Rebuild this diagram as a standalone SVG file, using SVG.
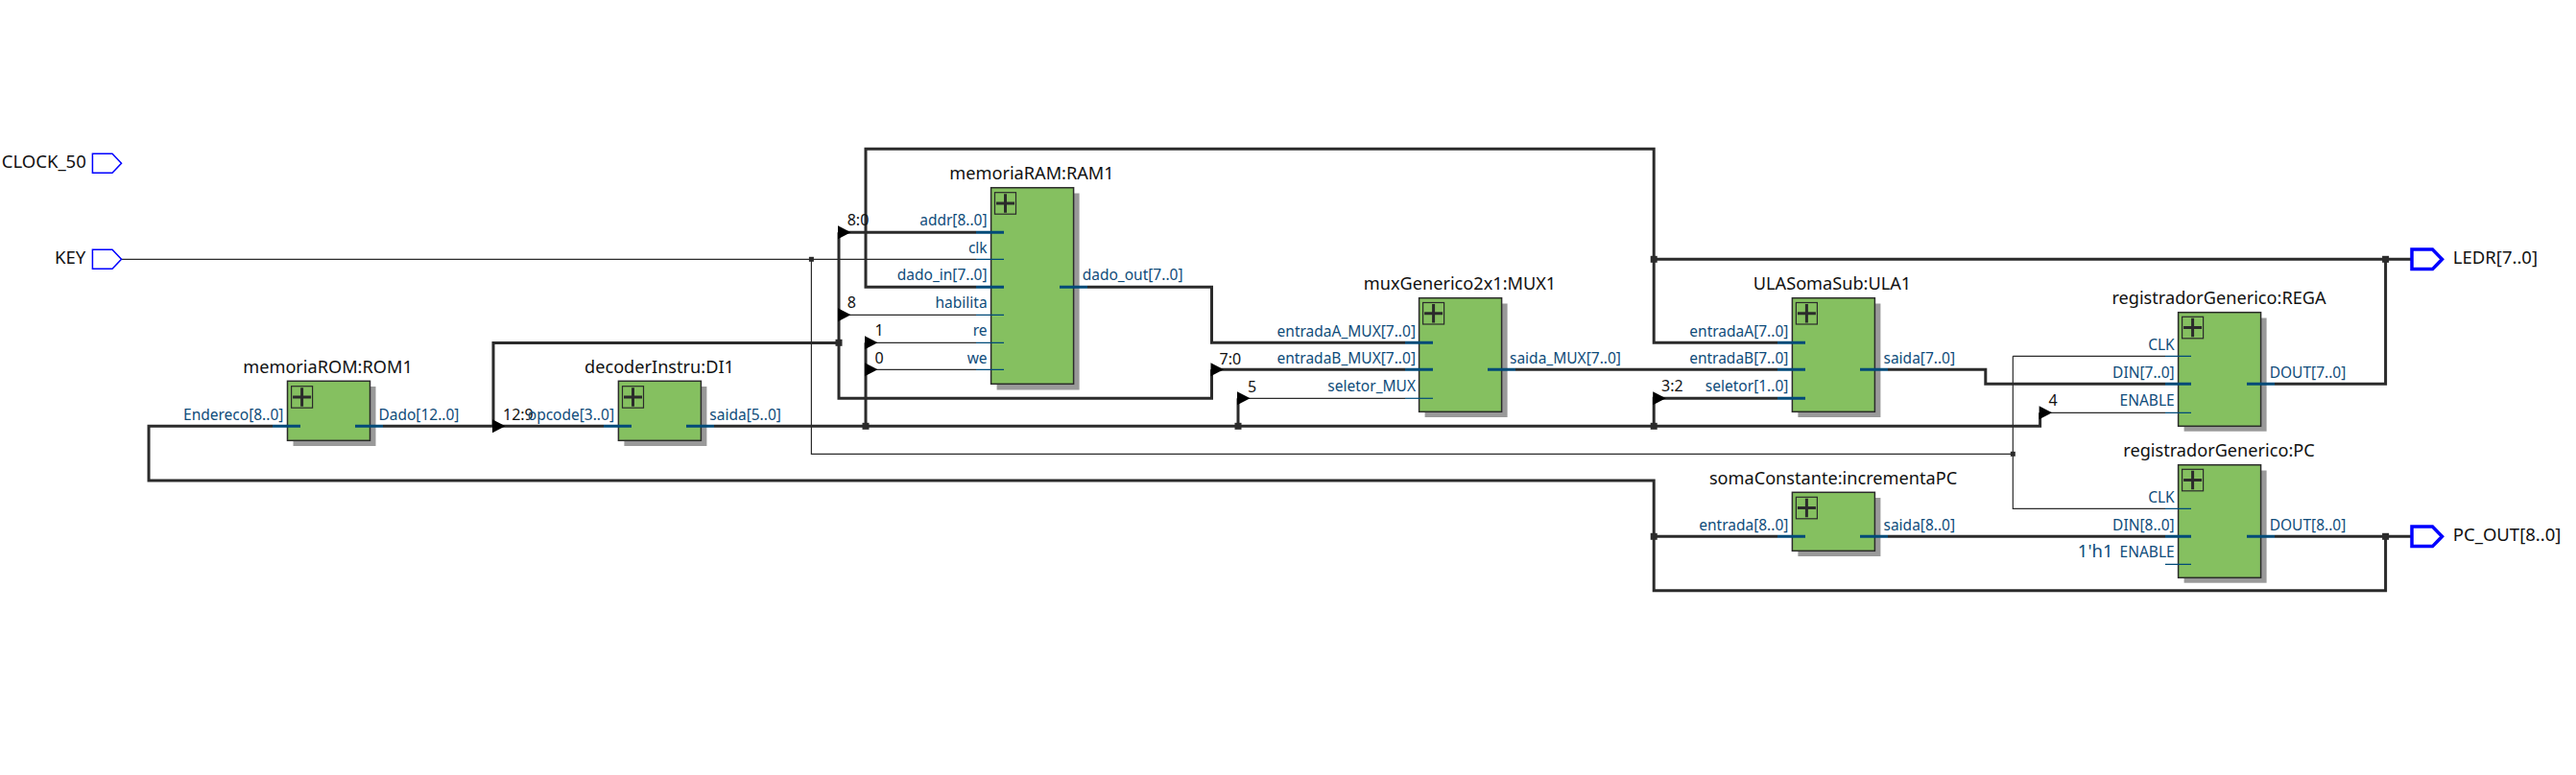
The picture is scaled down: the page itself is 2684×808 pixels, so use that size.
<svg xmlns="http://www.w3.org/2000/svg" xmlns:xlink="http://www.w3.org/1999/xlink" width="2684" height="808" viewBox="0 0 2684 808">
<style>
text{font-family:"Noto Sans","Open Sans","Liberation Sans",sans-serif}
.t{font-size:18.15px;fill:#111;text-anchor:middle}
.pl{font-size:15.5px;fill:#0f4c7a;text-anchor:end}
.pr{font-size:15.5px;fill:#0f4c7a}
.n{font-size:16px;fill:#111}
.io{font-size:18.5px;fill:#111}
.box{fill:#85c060;stroke:#2b2b2b;stroke-width:1.5}
.sh{fill:#999}
.w{fill:none;stroke:#2b2b2b;stroke-width:3}
.f{fill:none;stroke:#2b2b2b;stroke-width:1.2}
.sb{fill:none;stroke:#004a78;stroke-width:3}
.sf{fill:none;stroke:#004a78;stroke-width:1.2}
.pi{fill:#fff;stroke:#00f;stroke-width:1.5}
.po{fill:#fff;stroke:#00f;stroke-width:3.5}
.tri{fill:#000}
.dot{fill:#2b2b2b}
</style>
<defs>
<polygon id="tri" class="tri" points="-1,-7 12.5,0 -1,7"/>
<rect id="j" class="dot" x="-3.5" y="-3.5" width="7" height="7"/>
<rect id="js" class="dot" x="-2.5" y="-2.5" width="5" height="5"/>
<g id="ic"><rect x="0" y="0" width="22" height="22.5" fill="none" stroke="#2b2b2b" stroke-width="1.2"/><path d="M1.5 11.2H20.5M11 1.5V21" fill="none" stroke="#2b2b2b" stroke-width="3"/></g>
</defs>

<g id="connectors">
<path class="f" d="M126.5 270.3H1017M845.4 270.3V473.3H2097.3M2097.3 371.3V530.3H2256M2097.3 371.3H2256"/>
<path class="w" d="M284 444.3H155V501H1723.2V615.8H2485.6V559.3"/>
<path class="w" d="M399 444.3H629M514 444.3V357.5H874M874 242.3V415.3H1262.5V385.3M874 242.3H1017"/>
<path class="w" d="M744 444.3H2125.6V430.3M902 444.3V357.3M1290 444.3V415.3M1723.2 444.3V415.3H1852"/>
<path class="w" d="M1017 299.3H902V155.3H1723.2V357.3H1852M1723.2 270.3H2513M2370 400.3H2485.6V270.3"/>
<path class="w" d="M1133 299.3H1262.5V357.3H1464M1262.5 385.3H1464M1579 385.3H1852M1967 385.3H2068.8V400.3H2256M1723.2 559.3H1852M1967 559.3H2256M2370 559.3H2513"/>
<path class="f" d="M874 328.3H1017M902 357.3H1017M902 385.3H1017M1290 415.3H1464M2125.6 430.3H2256"/>
<use xlink:href="#tri" href="#tri" x="514" y="444.3"/>
<use xlink:href="#tri" href="#tri" x="874" y="242.3"/>
<use xlink:href="#tri" href="#tri" x="874" y="328.3"/>
<use xlink:href="#tri" href="#tri" x="902" y="357.3"/>
<use xlink:href="#tri" href="#tri" x="902" y="385.3"/>
<use xlink:href="#tri" href="#tri" x="1262.5" y="385.3"/>
<use xlink:href="#tri" href="#tri" x="1290" y="415.3"/>
<use xlink:href="#tri" href="#tri" x="1723.2" y="415.3"/>
<use xlink:href="#tri" href="#tri" x="2125.6" y="430.3"/>
<use xlink:href="#js" href="#js" x="845.4" y="270.3"/>
<use xlink:href="#js" href="#js" x="2097.3" y="473.3"/>
<use xlink:href="#j" href="#j" x="874" y="357.3"/>
<use xlink:href="#j" href="#j" x="902" y="444.3"/>
<use xlink:href="#j" href="#j" x="1290" y="444.3"/>
<use xlink:href="#j" href="#j" x="1723.2" y="444.3"/>
<use xlink:href="#j" href="#j" x="1723.2" y="270.3"/>
<use xlink:href="#j" href="#j" x="1723.2" y="559.3"/>
<use xlink:href="#j" href="#j" x="2485.6" y="270.3"/>
<use xlink:href="#j" href="#j" x="2485.6" y="559.3"/>
<text class="n" x="524" y="438">12:9</text>
<text class="n" x="882.7" y="235">8:0</text>
<text class="n" x="882.7" y="321">8</text>
<text class="n" x="911.6" y="350">1</text>
<text class="n" x="911.6" y="379">0</text>
<text class="n" x="1270.5" y="379.5">7:0</text>
<text class="n" x="1300" y="408.5">5</text>
<text class="n" x="1731" y="408">3:2</text>
<text class="n" x="2134.4" y="422.7">4</text>
</g>

<g id="CLOCK_50"><polygon class="pi" points="96.4,160.3 117,160.3 126.5,170.3 117,180.3 96.4,180.3"/><text class="io" x="89.8" y="175" text-anchor="end">CLOCK_50</text></g>
<g id="KEY"><polygon class="pi" points="96.4,260.3 117,260.3 126.5,270.3 117,280.3 96.4,280.3"/><text class="io" x="89.3" y="275" text-anchor="end">KEY</text></g>
<g id="LEDR"><polygon class="po" points="2513,260 2534.5,260 2544.5,270.3 2534.5,280.6 2513,280.6"/><text class="io" x="2555.8" y="275">LEDR[7..0]</text></g>
<g id="PC_OUT"><polygon class="po" points="2513,549 2534.5,549 2544.5,559.3 2534.5,569.6 2513,569.6"/><text class="io" x="2555.8" y="564.3">PC_OUT[8..0]</text></g>

<g id="ROM1">
<rect class="sh" x="305.5" y="403" width="86" height="62"/><rect class="box" x="299.5" y="397.3" width="86" height="62"/><use xlink:href="#ic" href="#ic" x="303.6" y="402.7"/>
<path class="sb" d="M284 444.3H313M370 444.3H399"/>
<text class="t" x="341.5" y="389">memoriaROM:ROM1</text><text class="pl" x="295.4" y="438">Endereco[8..0]</text><text class="pr" x="394.4" y="438">Dado[12..0]</text>
</g>
<g id="DI1">
<rect class="sh" x="650.4" y="403" width="86" height="62"/><rect class="box" x="644.4" y="397.3" width="86" height="62"/><use xlink:href="#ic" href="#ic" x="648.5" y="402.7"/>
<path class="sb" d="M629 444.3H658M715 444.3H744"/>
<text class="t" x="687" y="389">decoderInstru:DI1</text><text class="pl" x="640" y="438">opcode[3..0]</text><text class="pr" x="739.3" y="438">saida[5..0]</text>
</g>
<g id="RAM1">
<rect class="sh" x="1038.6" y="201.5" width="86" height="205"/><rect class="box" x="1032.6" y="195.7" width="86" height="204.6"/><use xlink:href="#ic" href="#ic" x="1036.5" y="200.7"/>
<path class="sb" d="M1017 242.3H1046M1017 299.3H1046M1104 299.3H1133"/><path class="sf" d="M1017 270.3H1046M1017 328.3H1046M1017 357.3H1046M1017 385.3H1046"/>
<text class="t" x="1075" y="187">memoriaRAM:RAM1</text>
<text class="pl" x="1028.6" y="235">addr[8..0]</text><text class="pl" x="1028.6" y="264">clk</text><text class="pl" x="1028.6" y="292.3">dado_in[7..0]</text><text class="pl" x="1028.6" y="321">habilita</text><text class="pl" x="1028.6" y="350">re</text><text class="pl" x="1028.6" y="379">we</text>
<text class="pr" x="1127.7" y="292.3">dado_out[7..0]</text>
</g>
<g id="MUX1">
<rect class="sh" x="1484.6" y="316.5" width="86" height="118.5"/><rect class="box" x="1478.6" y="310.7" width="86" height="118.6"/><use xlink:href="#ic" href="#ic" x="1482.6" y="315.5"/>
<path class="sb" d="M1464 357.3H1493M1464 385.3H1493M1550 385.3H1579"/><path class="sf" d="M1464 415.3H1493"/>
<text class="t" x="1521" y="301.7">muxGenerico2x1:MUX1</text>
<text class="pl" x="1475" y="350.7">entradaA_MUX[7..0]</text><text class="pl" x="1475" y="379">entradaB_MUX[7..0]</text><text class="pl" x="1475" y="408">seletor_MUX</text><text class="pr" x="1573" y="379">saida_MUX[7..0]</text>
</g>
<g id="ULA1">
<rect class="sh" x="1873.4" y="316.5" width="86" height="118.5"/><rect class="box" x="1867.4" y="310.7" width="86" height="118.6"/><use xlink:href="#ic" href="#ic" x="1871.4" y="315.5"/>
<path class="sb" d="M1852 357.3H1881M1852 385.3H1881M1852 415.3H1881M1938 385.3H1967"/>
<text class="t" x="1909" y="301.7">ULASomaSub:ULA1</text>
<text class="pl" x="1863.4" y="350.7">entradaA[7..0]</text><text class="pl" x="1863.4" y="379">entradaB[7..0]</text><text class="pl" x="1863.4" y="408">seletor[1..0]</text><text class="pr" x="1962.5" y="379">saida[7..0]</text>
</g>
<g id="incrementaPC">
<rect class="sh" x="1873.4" y="519" width="86" height="61"/><rect class="box" x="1867.4" y="513.3" width="86" height="61"/><use xlink:href="#ic" href="#ic" x="1871.4" y="518.3"/>
<path class="sb" d="M1852 559.3H1881M1938 559.3H1967"/>
<text class="t" x="1910" y="505">somaConstante:incrementaPC</text>
<text class="pl" x="1863.4" y="553.3">entrada[8..0]</text><text class="pr" x="1962.5" y="553.3">saida[8..0]</text>
</g>
<g id="REGA">
<rect class="sh" x="2275.6" y="331.5" width="86" height="118.2"/><rect class="box" x="2269.6" y="325.7" width="86" height="118.6"/><use xlink:href="#ic" href="#ic" x="2273.6" y="330.3"/>
<path class="sb" d="M2256 400.3H2283M2341 400.3H2370"/><path class="sf" d="M2256 371.3H2283M2256 430.3H2283"/>
<text class="t" x="2312" y="316.7">registradorGenerico:REGA</text>
<text class="pl" x="2265.7" y="365">CLK</text><text class="pl" x="2265.7" y="394">DIN[7..0]</text><text class="pl" x="2265.7" y="423">ENABLE</text><text class="pr" x="2364.7" y="394">DOUT[7..0]</text>
</g>
<g id="PC">
<rect class="sh" x="2275.6" y="490.5" width="86" height="117.2"/><rect class="box" x="2269.6" y="484.7" width="86" height="117.6"/><use xlink:href="#ic" href="#ic" x="2273.6" y="489.3"/>
<path class="sb" d="M2256 559.3H2283M2341 559.3H2370"/><path class="sf" d="M2256 530.3H2283M2256 588.3H2283"/>
<text class="t" x="2312" y="476">registradorGenerico:PC</text>
<text class="pl" x="2265.7" y="524">CLK</text><text class="pl" x="2265.7" y="553">DIN[8..0]</text><text class="pl" x="2265.7" y="580.7">ENABLE</text><text class="pr" x="2364.7" y="553">DOUT[8..0]</text>
<text class="pl" x="2201.6" y="580.7" style="font-size:18.5px">1'h1</text>
</g>
</svg>
